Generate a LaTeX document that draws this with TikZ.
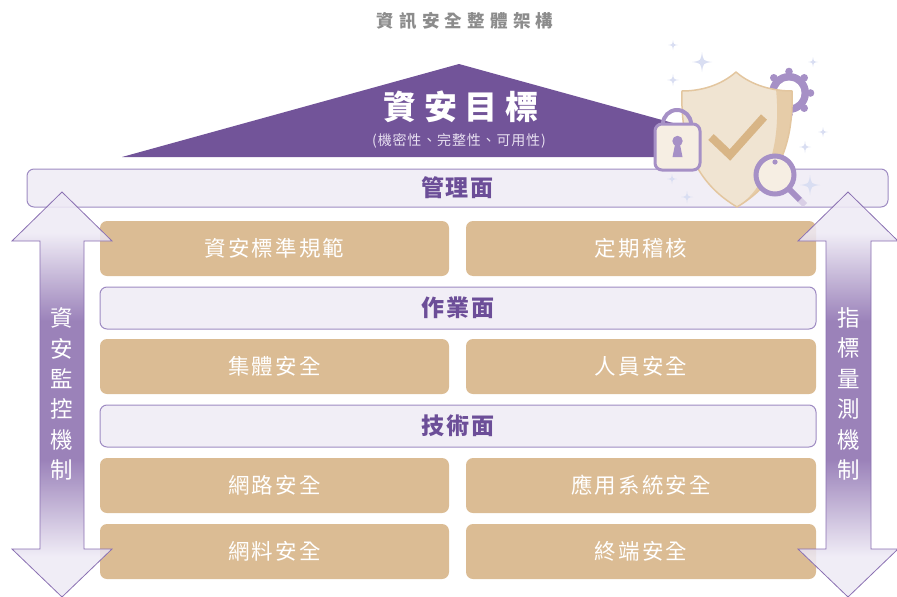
\documentclass[tikz,border=0pt]{standalone}
\usepackage{fontspec}
\newfontfamily\cjk{Noto Sans CJK TC}

\definecolor{roofpurple}{HTML}{725499}
\definecolor{tanfill}{HTML}{DBBC94}
\definecolor{barfill}{HTML}{F1EEF6}
\definecolor{barline}{HTML}{9E8BC2}
\definecolor{bartext}{HTML}{6C4E98}
\definecolor{arrlight}{HTML}{EEEAF5}
\definecolor{arrdark}{HTML}{8A6DAE}
\definecolor{arrline}{HTML}{8A70B2}
\definecolor{shieldlight}{HTML}{F0E4D2}
\definecolor{shielddark}{HTML}{E6CCA8}
\definecolor{shieldline}{HTML}{E3C69F}
\definecolor{checkcol}{HTML}{D8B586}
\definecolor{lockcream}{HTML}{F6EEE3}
\definecolor{iconpurple}{HTML}{A690C6}
\definecolor{handletip}{HTML}{D9CFE6}
\definecolor{sparkcol}{HTML}{D9DEF2}
\definecolor{titlegray}{HTML}{8C8C8C}
\definecolor{subtext}{HTML}{E8E0F1}

% light at both heads, deep purple along the middle of the shaft
\pgfdeclareverticalshading{arrowfill}{100bp}{color(0bp)=(arrlight); color(25bp)=(arrlight); color(30bp)=(arrlight); color(42bp)=(arrdark); color(59bp)=(arrdark); color(70bp)=(arrlight); color(75bp)=(arrlight); color(100bp)=(arrlight)}

\tikzset{
  tanbox/.style={fill=tanfill, rounded corners=7pt, inner sep=0pt, text=white,
    font={\cjk\addfontfeature{LetterSpace=10}\fontsize{21.5}{25}\selectfont}},
  planebar/.style={fill=barfill, draw=barline, line width=1pt, rounded corners=7pt, inner sep=0pt,
    text=bartext, font={\cjk\bfseries\addfontfeature{LetterSpace=8}\fontsize{23}{27}\selectfont}},
  sidearrow/.style={shade, shading=arrowfill, fill opacity=0.86, draw=arrline, line width=0.8pt},
  sidetext/.style={text=white, align=center, inner sep=0pt,
    font={\cjk\fontsize{22.5}{30.4}\selectfont}},
  sparkle/.pic={\fill[sparkcol] (0,-1) .. controls (0.12,-0.12) .. (1,0) .. controls (0.12,0.12) .. (0,1) .. controls (-0.12,0.12) .. (-1,0) .. controls (-0.12,-0.12) .. cycle;}
}

\begin{document}
\begin{tikzpicture}[x=1pt, y=-1pt]
\useasboundingbox (0,0) rectangle (897,597);

% heading
\node[text=titlegray, font={\cjk\bfseries\addfontfeature{LetterSpace=30}\fontsize{17.5}{21}\selectfont}] (heading) at (465,21) {資訊安全整體架構};

% roof
\fill[roofpurple] (122,157) -- (459,64) -- (760,147) -- (760,157) -- cycle;
\node[text=white, font={\cjk\bfseries\addfontfeature{LetterSpace=24}\fontsize{33}{38}\selectfont}] (goal) at (461,107) {資安目標};
\node[text=subtext, font={\cjk\addfontfeature{LetterSpace=6}\fontsize{14}{17}\selectfont}] (goalsub) at (459,141) {(機密性、完整性、可用性)};

% three planes
\node[planebar, minimum width=861pt, minimum height=38pt] (mgmt) at (457.5,188) {管理面};
\node[planebar, minimum width=716pt, minimum height=42pt] (ops) at (458,308) {作業面};
\node[planebar, minimum width=716pt, minimum height=42pt] (tech) at (458,426) {技術面};

% topic boxes
\node[tanbox, minimum width=349pt, minimum height=55pt] (b11) at (274.5,248.5) {資安標準規範};
\node[tanbox, minimum width=350pt, minimum height=55pt] (b12) at (641,248.5) {定期稽核};
\node[tanbox, minimum width=349pt, minimum height=55pt] (b21) at (274.5,366.5) {集體安全};
\node[tanbox, minimum width=350pt, minimum height=55pt] (b22) at (641,366.5) {人員安全};
\node[tanbox, minimum width=349pt, minimum height=55pt] (b31) at (274.5,485.5) {網路安全};
\node[tanbox, minimum width=350pt, minimum height=55pt] (b32) at (641,485.5) {應用系統安全};
\node[tanbox, minimum width=349pt, minimum height=55pt] (b41) at (274.5,551.5) {網料安全};
\node[tanbox, minimum width=350pt, minimum height=55pt] (b42) at (641,551.5) {終端安全};

% gear behind the shield
\begin{scope}[shift={(789,93)}]
  \fill[iconpurple] (0,0) circle (20);
  \foreach \a in {0,45,...,315} \fill[iconpurple] (\a:21.5) circle (3.8);
  \fill[white] (0,0) circle (12.5);
\end{scope}

% shield
\fill[shieldlight] (736,72) .. controls (720,86) and (700,91) .. (682,91)
  .. controls (680,150) and (700,185) .. (737,207)
  .. controls (774,185) and (794,150) .. (792,91)
  .. controls (774,91) and (752,86) .. (736,72) -- cycle;
\fill[shielddark] (776,89) .. controls (781,140) and (770,185) .. (737,207)
  .. controls (774,185) and (794,150) .. (792,91) .. controls (786,91) and (780,90) .. (776,89) -- cycle;
\draw[shieldline, line width=1.5pt, line join=round] (736,72) .. controls (720,86) and (700,91) .. (682,91)
  .. controls (680,150) and (700,185) .. (737,207)
  .. controls (774,185) and (794,150) .. (792,91)
  .. controls (774,91) and (752,86) .. (736,72) -- cycle;
\draw[checkcol, line width=8pt] (711,137) -- (730,155) -- (764,117);

% padlock
\draw[iconpurple, line width=4pt] (663,130) -- (663,124) arc[start angle=180, end angle=360, radius=14] -- (691,130);
\fill[lockcream, draw=iconpurple, line width=3pt, rounded corners=7pt] (655,124) rectangle (700,170);
\fill[iconpurple] (677.5,141) circle (5.2);
\fill[iconpurple] (675.5,142) -- (679.5,142) -- (682.5,157) -- (672.5,157) -- cycle;

% magnifier
\draw[iconpurple, line width=6pt] (789,189) -- (800,200);
\draw[handletip, line width=6pt] (800,200) -- (805,205);
\fill[lockcream, draw=iconpurple, line width=5pt] (775,175) circle (19);
\fill[iconpurple] (775,162) circle (2.6);

% sparkles
\pic[scale=5] at (673,45) {sparkle};
\pic[scale=10] at (702,62) {sparkle};
\pic[scale=6] at (673,80) {sparkle};
\pic[scale=5] at (813,62) {sparkle};
\pic[scale=5] at (823,132) {sparkle};
\pic[scale=6] at (805,147) {sparkle};
\pic[scale=5] at (672,179) {sparkle};
\pic[scale=6] at (687,197) {sparkle};
\pic[scale=10] at (810,185) {sparkle};

% monitoring arrow (left) and measurement arrow (right)
\path[sidearrow] (62,192) -- (112,241) -- (84,241) -- (84,549) -- (112,549) -- (62,597)
  -- (12,549) -- (40,549) -- (40,241) -- (12,241) -- cycle;
\path[sidearrow] (848,192) -- (898,241) -- (871,241) -- (871,549) -- (898,549) -- (848,597)
  -- (798,549) -- (826,549) -- (826,241) -- (798,241) -- cycle;
\node[sidetext] (montext) at (62,394) {資\\安\\監\\控\\機\\制};
\node[sidetext] (meatext) at (848.5,394) {指\\標\\量\\測\\機\\制};
\end{tikzpicture}
\end{document}
